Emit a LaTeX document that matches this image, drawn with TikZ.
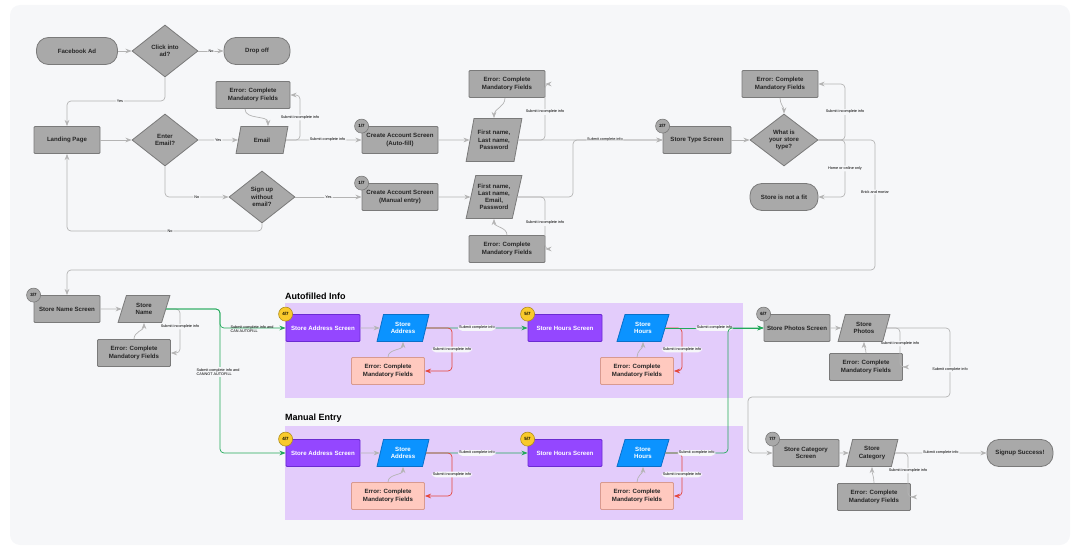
\documentclass[tikz,border=0pt]{standalone}
\usepackage{fontspec}
\setmainfont{Liberation Sans}
\usetikzlibrary{shapes.geometric,arrows.meta,positioning}
\definecolor{bgc}{HTML}{F6F7F9}
\definecolor{boxc}{HTML}{A9A9A9}
\definecolor{edgec}{HTML}{7A7A7A}
\definecolor{linec}{HTML}{B4B4B4}
\definecolor{regionc}{HTML}{E3CCFB}
\definecolor{purp}{HTML}{9447FF}
\definecolor{purpd}{HTML}{6B2BD1}
\definecolor{bluec}{HTML}{0B93FF}
\definecolor{blued}{HTML}{0A6FC9}
\definecolor{pinkc}{HTML}{FFC9BF}
\definecolor{pinkd}{HTML}{D89A90}
\definecolor{yel}{HTML}{F9CA2C}
\definecolor{greenc}{HTML}{22A95A}
\definecolor{redc}{HTML}{E5453A}
\tikzset{>=Stealth}
\tikzset{%
    base/.style={draw=edgec,fill=boxc,line width=0.8pt,align=center,inner sep=1pt,
        font=\fontsize{6.1}{7.2}\selectfont\bfseries,text=black!85},
    box/.style={base,rectangle,rounded corners=1pt,minimum width=#1,minimum height=27pt},
    pill/.style={base,rectangle,rounded corners=12pt,minimum width=#1,minimum height=27pt},
    dec/.style={base,diamond,minimum width=66pt,minimum height=52pt,inner sep=0pt},
    data/.style={base,trapezium,trapezium left angle=72,trapezium right angle=108,
        trapezium stretches=true,minimum width=#1,minimum height=27pt},
    data/.default=52pt,
    badge/.style={circle,draw=edgec,fill=boxc,line width=0.6pt,minimum size=14pt,inner sep=0pt,
        font=\fontsize{4.5}{5}\selectfont\bfseries},
    scr/.style={box=74pt,fill=purp,draw=purpd,text=white},
    inp/.style={data,fill=bluec,draw=blued,text=white},
    err/.style={box=73pt,fill=pinkc,draw=pinkd},
    arr/.style={->,draw=linec,line width=0.7pt,rounded corners=4pt},
    garr/.style={arr,draw=greenc},
    rarr/.style={arr,draw=redc},
    lbl/.style={fill=bgc,inner sep=1pt,font=\fontsize{3.8}{4.6}\selectfont,text=black},
}
\begin{document}
\begin{tikzpicture}[x=1pt,y=-1pt]
    \path[use as bounding box] (0,0) rectangle (1080,551);
    \fill[bgc,rounded corners=10pt] (10,5) rectangle (1070,545);
    % regions
    \fill[regionc] (285,303) rectangle (743,398);
    \fill[regionc] (285,426) rectangle (743,520);
    \node[anchor=south west,inner sep=0pt,font=\fontsize{9}{10}\selectfont\bfseries] (t1) at (285,300) {Autofilled Info};
    \node[anchor=south west,inner sep=0pt,font=\fontsize{9}{10}\selectfont\bfseries] (t2) at (285,423) {Manual Entry};
    % sign up
    \node[pill=81pt] (fb) at (77,51) {Facebook Ad};
    \node[dec] (click) at (165,51) {Click into\\ad?};
    \node[pill=66pt] (drop) at (257,51) {Drop off};
    \node[box=66pt] (land) at (67,140) {Landing Page};
    \node[dec] (enter) at (165,140) {Enter\\Email?};
    \node[data] (email) at (262,140) {Email};
    \node[box=74pt] (errA) at (253,95) {Error: Complete\\Mandatory Fields};
    \node[dec] (nomail) at (262,197) {Sign up\\without\\email?};
    \node[box=76pt] (caA) at (400,140) {Create Account Screen\\(Auto-fill)};
    \node[box=76pt] (caM) at (400,197) {Create Account Screen\\(Manual entry)};
    \node[badge] at (caA.north west) {1/7};
    \node[badge] at (caM.north west) {1/7};
    \node[data=56pt,minimum height=43pt] (fnA) at (494,140) {First name,\\Last name,\\Password};
    \node[data=56pt,minimum height=43pt] (fnM) at (494,197) {First name,\\Last name,\\Email,\\Password};
    \node[box=76pt] (errB) at (507,84) {Error: Complete\\Mandatory Fields};
    \node[box=76pt] (errC) at (507,249) {Error: Complete\\Mandatory Fields};
    \node[box=68pt] (type) at (697,140) {Store Type Screen};
    \node[badge] at (type.north west) {2/7};
    \node[dec,minimum width=68pt] (kind) at (784,140) {What is\\your store\\type?};
    \node[box=76pt] (errD) at (780,84) {Error: Complete\\Mandatory Fields};
    \node[pill=68pt] (nofit) at (784,197) {Store is not a fit};
    % store info
    \node[box=66pt] (name) at (67,309) {Store Name Screen};
    \node[badge] at (name.north west) {3/7};
    \node[data] (sname) at (144,309) {Store\\Name};
    \node[box=73pt] (errE) at (134,353) {Error: Complete\\Mandatory Fields};
    \foreach \r/\y in {a/328,m/453}{
        \node[scr] (addr\r) at (323,\y) {Store Address Screen};
        \node[badge,fill=yel,draw=yel!70!black] at (addr\r.north west) {4/7};
        \node[inp] (sadd\r) at (403,\y) {Store\\Address};
        \node[err] (erra\r) at (388,\y+43) {Error: Complete\\Mandatory Fields};
        \node[scr] (hour\r) at (565,\y) {Store Hours Screen};
        \node[badge,fill=yel,draw=yel!70!black] at (hour\r.north west) {5/7};
        \node[inp] (shou\r) at (643,\y) {Store\\Hours};
        \node[err] (errh\r) at (637,\y+43) {Error: Complete\\Mandatory Fields};
        \draw[arr] (addr\r) -- (sadd\r);
        \draw[garr] (sadd\r.east) -- node[lbl]{Submit complete info} (hour\r);
        \draw[rarr] (sadd\r.east) -| (452,\y+43) node[lbl,pos=0.75]{Submit incomplete info} -- (erra\r.east);
        \draw[arr] (erra\r.north) to[out=90,in=-90] (sadd\r.south);
        \draw[rarr] (shou\r.east) -| (682,\y+43) node[lbl,pos=0.75]{Submit incomplete info} -- (errh\r.east);
        \draw[arr] (errh\r.north) to[out=90,in=-90] (shou\r.south);
    }
    \node[box=66pt] (photo) at (797,328) {Store Photos Screen};
    \node[badge] at (photo.north west) {6/7};
    \node[data] (sphoto) at (864,328) {Store\\Photos};
    \node[box=73pt] (errF) at (866,367) {Error: Complete\\Mandatory Fields};
    \node[box=66pt] (cat) at (806,453) {Store Category\\Screen};
    \node[badge] at (cat.north west) {7/7};
    \node[data] (scat) at (872,453) {Store\\Category};
    \node[box=73pt] (errG) at (874,497) {Error: Complete\\Mandatory Fields};
    \node[pill=66pt] (done) at (1020,453) {Signup Success!};
    % connectors
    \draw[arr] (fb) -- (click);
    \draw[arr] (click) -- node[lbl]{No} (drop);
    \draw[arr] (click.south) |- (120,101) node[lbl]{Yes} -| (land.north);
    \draw[arr] (land) -- (enter);
    \draw[arr] (enter) -- node[lbl]{Yes} (email);
    \draw[arr] (email.east) -- node[lbl,pos=0.55]{Submit complete info} (caA);
    \draw[arr] (email.east) -| (300,95) node[lbl,pos=0.75]{Submit incomplete info} -- (errA.east);
    \draw[arr] ([xshift=-8]errA.south) to[out=-90,in=90] ([xshift=6]email.north);
    \draw[arr] (enter.south) |- node[lbl,pos=0.75]{No} (nomail);
    \draw[arr] (nomail) -- node[lbl]{Yes} (caM);
    \draw[arr] (nomail.south) |- (170,231) node[lbl]{No} -| (land.south);
    \draw[arr] (caA) -- (fnA);
    \draw[arr] (caM) -- (fnM);
    \draw[arr] (fnA.east) -| (545,84) node[lbl,pos=0.75]{Submit incomplete info} -- (errB.east);
    \draw[arr] (fnM.east) -| (545,249) node[lbl,pos=0.75]{Submit incomplete info} -- (errC.east);
    \draw[arr] ([xshift=-2]errB.south) to[out=-90,in=90] (fnA.north);
    \draw[arr] (errC.north) to[out=90,in=-90] (fnM.south);
    \draw[arr] (fnA.east) -- node[lbl,pos=0.6]{Submit complete info} (type);
    \draw[arr] (fnM.east) -| (573,140) -- (type);
    \draw[arr] (type) -- (kind);
    \draw[arr] (kind.east) -| (845,84) node[lbl,pos=0.75]{Submit incomplete info} -- (errD.east);
    \draw[arr] (errD.south) to[out=-90,in=90] (kind.north);
    \draw[arr] (kind.east) -| (845,197) node[lbl,pos=0.75]{Home or online only} -- (nofit.east);
    \draw[arr] (kind.east) -| (875,270) node[lbl,pos=0.7]{Brick and mortar} -| (name.north);
    \draw[arr] (name) -- (sname);
    \draw[arr] (sname.east) -| (180,353) node[lbl,pos=0.7]{Submit incomplete info} -- (errE.east);
    \draw[arr] (errE.north) to[out=90,in=-90] (sname.south);
    \draw[garr] (sname.east) -| (220,328) -- (addra.west);
    \draw[garr] (sname.east) -| (220,453) -- (addrm.west);
    \node[lbl,align=left,fill=none] at (252,329) {Submit complete info and\\CAN AUTOFILL};
    \node[lbl,align=left] at (218,372) {Submit complete info and\\CANNOT AUTOFILL};
    \draw[garr] (shoua.east) -- node[lbl]{Submit complete info} (photo.west);
    \draw[garr] (shoum.east) -- node[lbl]{Submit complete info} (728,453) |- (photo.west);
    \draw[arr] (photo) -- (sphoto);
    \draw[arr] (sphoto.east) -| (900,367) node[lbl,pos=0.7]{Submit incomplete info} -- (errF.east);
    \draw[arr] (errF.north) to[out=90,in=-90] (sphoto.south);
    \draw[arr] (sphoto.east) -| (950,397) node[lbl,pos=0.8]{Submit complete info} -| (748,453) -- (cat.west);
    \draw[arr] (cat) -- (scat);
    \draw[arr] (scat) -- node[lbl]{Submit complete info} (done);
    \draw[arr] (scat.east) -| (908,497) node[lbl,pos=0.7]{Submit incomplete info} -- (errG.east);
    \draw[arr] (errG.north) to[out=90,in=-90] (scat.south);
\end{tikzpicture}
\end{document}
